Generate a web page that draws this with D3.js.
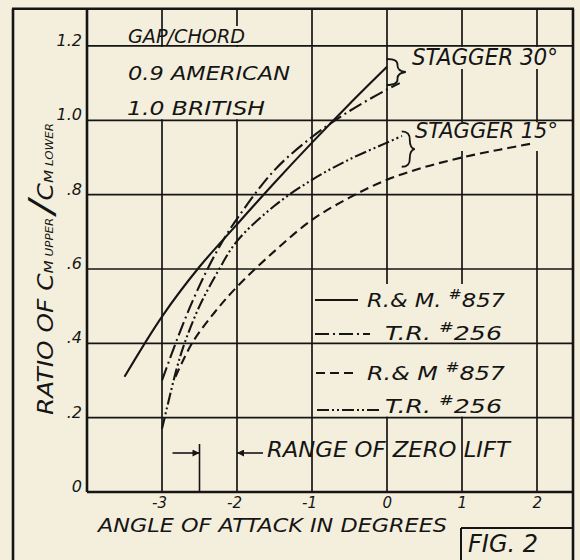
<!DOCTYPE html>
<html><head><meta charset="utf-8">
<script src="https://cdn.jsdelivr.net/npm/d3@7"></script>
<style>
html,body{margin:0;padding:0;background:#f4efdc;}
svg{display:block;}
text{font-family:"DejaVu Sans",sans-serif;font-style:oblique;fill:#151515;}
</style></head><body>
<svg id="chart" width="580" height="560"></svg>
<script>
// ---------- data ----------
const xTicks = [-3, -2, -1, 0, 1, 2];
const xTickLabels = ["-3", "-2", "-1", "0", "1", "2"];
const yTicks = [0, 0.2, 0.4, 0.6, 0.8, 1.0, 1.2];
const yTickLabels = ["0", ".2", ".4", ".6", ".8", "1.0", "1.2"];

// R. & M. #857, stagger 30° (solid)
const rm857S30 = [[-3.5,0.31],[-3.0,0.472],[-2.5,0.606],[-2.0,0.72],[-1.5,0.832],[-1.0,0.94],[-0.5,1.044],[0.0,1.144]];
// T.R. #256, stagger 30° (dash-dot)
const tr256S30 = [[-3.0,0.30],[-2.8,0.41],[-2.6,0.51],[-2.4,0.597],[-2.2,0.672],[-2.0,0.735],[-1.5,0.866],[-1.0,0.955],[-0.5,1.025],[0.0,1.083],[0.17,1.10]];
// R. & M. #857, stagger 15° (dashed)
const rm857S15 = [[-2.82,0.31],[-2.6,0.40],[-2.3,0.483],[-2.0,0.552],[-1.5,0.648],[-1.0,0.732],[-0.5,0.792],[0.0,0.84],[0.5,0.874],[1.0,0.90],[1.5,0.921],[1.97,0.939]];
// T.R. #256, stagger 15° (dash-dot-dot)
const tr256S15 = [[-3.0,0.17],[-2.9,0.255],[-2.8,0.335],[-2.7,0.40],[-2.5,0.50],[-2.25,0.595],[-2.0,0.675],[-1.5,0.77],[-1.0,0.84],[-0.5,0.895],[0.0,0.94],[0.2,0.958]];

const zeroLiftRange = [-2.5, -2.0];

const seriesNames = ["R.& M. #857", "T.R. #256", "R.& M #857", "T.R. #256"];
const seriesDash = [null, "14,4,2,4", "9,5", "12,3,2,3,2,3"];
const seriesData = [rm857S30, tr256S30, rm857S15, tr256S15];

// ---------- drawing ----------
const ink = "#151515";
const bg = "#f4efdc";
const svg = d3.select("#chart");
const x = d3.scaleLinear().domain([-4, 2.48]).range([87, 573]);
const y = d3.scaleLinear().domain([0, 1.3]).range([492, 8.8]);

const gV = svg.append("g");
const gMask = svg.append("g");
const gH = svg.append("g");
const gFrame = svg.append("g");
const gCurves = svg.append("g");
const gText = svg.append("g");

// vertical grid
gV.selectAll("line").data(xTicks).join("line")
  .attr("x1", d => x(d)).attr("x2", d => x(d))
  .attr("y1", y(1.3)).attr("y2", y(0))
  .attr("stroke", ink).attr("stroke-width", 1.7);

// horizontal grid
gH.selectAll("line").data(yTicks.filter(d => d > 0)).join("line")
  .attr("x1", x(-4)).attr("x2", x(2.48))
  .attr("y1", d => y(d)).attr("y2", d => y(d))
  .attr("stroke", ink).attr("stroke-width", 1.7);

// frame
const fw = 2.6;
gFrame.append("line").attr("x1", 13).attr("x2", 13).attr("y1", y(1.3)).attr("y2", 562).attr("stroke", ink).attr("stroke-width", fw);
gFrame.append("line").attr("x1", 12).attr("x2", 574).attr("y1", y(1.3)).attr("y2", y(1.3)).attr("stroke", ink).attr("stroke-width", fw);
gFrame.append("line").attr("x1", x(2.48)).attr("x2", x(2.48)).attr("y1", y(1.3)).attr("y2", 562).attr("stroke", ink).attr("stroke-width", fw);
gFrame.append("line").attr("x1", x(-4)).attr("x2", x(-4)).attr("y1", y(1.3)).attr("y2", y(0)).attr("stroke", ink).attr("stroke-width", fw);
gFrame.append("line").attr("x1", x(-4)).attr("x2", x(2.48)).attr("y1", y(0)).attr("y2", y(0)).attr("stroke", ink).attr("stroke-width", fw);
// FIG box
gFrame.append("line").attr("x1", 461).attr("x2", 574).attr("y1", 528).attr("y2", 528).attr("stroke", ink).attr("stroke-width", 2);
gFrame.append("line").attr("x1", 461).attr("x2", 461).attr("y1", 528).attr("y2", 562).attr("stroke", ink).attr("stroke-width", 2);

// curves
const line = d3.line().x(d => x(d[0])).y(d => y(d[1])).curve(d3.curveCatmullRom.alpha(0.5));
seriesData.forEach((s, i) => {
  gCurves.append("path").attr("d", line(s)).attr("fill", "none")
    .attr("stroke", ink).attr("stroke-width", 2.1)
    .attr("stroke-dasharray", seriesDash[i]);
});

// tick labels
gText.selectAll("text.yt").data(yTicks).join("text").attr("class", "yt")
  .attr("x", 82).attr("y", d => y(d)).attr("text-anchor", "end")
  .attr("font-size", 16).text((d, i) => yTickLabels[i]);
gText.selectAll("text.xt").data(xTicks).join("text").attr("class", "xt")
  .attr("x", d => x(d) + 5).attr("y", 508).attr("text-anchor", "end")
  .attr("font-size", 15).text((d, i) => xTickLabels[i]);

function label(txt, px, py, size, len) {
  const t = gText.append("text").attr("x", px).attr("y", py).attr("font-size", size).text(txt);
  if (len) t.attr("textLength", len).attr("lengthAdjust", "spacingAndGlyphs");
  return t;
}

// axis titles
label("ANGLE OF ATTACK  IN DEGREES", 98, 532, 19, 349);
const yl = gText.append("text").attr("transform", "translate(53,269) rotate(-90)")
  .attr("text-anchor", "middle").attr("textLength", 292).attr("lengthAdjust", "spacingAndGlyphs");
yl.append("tspan").attr("font-size", 21).text("RATIO OF C");
yl.append("tspan").attr("font-size", 13).text("M");
yl.append("tspan").attr("font-size", 10).text(" UPPER ");
yl.append("tspan").attr("font-size", 34).text("/");
yl.append("tspan").attr("font-size", 21).text("C");
yl.append("tspan").attr("font-size", 13).text("M");
yl.append("tspan").attr("font-size", 10).text(" LOWER");

// notes
label("GAP/CHORD", 128, 43, 20, 117);
const am = label("0.9 AMERICAN", 128, 80, 20, 162);
const br = label("1.0 BRITISH", 127, 115, 20, 138);
const s30 = label("STAGGER 30°", 412, 65, 23, 146);
const s15 = label("STAGGER 15°", 415, 138, 21, 143);
label("RANGE OF ZERO LIFT", 267, 457, 22, 243);
label("FIG. 2", 468, 552, 25, 70);

// braces
function brace(xp, y0, y1, w) {
  const m = (y0 + y1) / 2;
  return `M${xp - 4},${y0} Q${xp + w * 0.5},${y0} ${xp + w * 0.45},${y0 + (m - y0) * 0.5}` +
         ` Q${xp + w * 0.45},${m - 1} ${xp + w},${m}` +
         ` Q${xp + w * 0.45},${m + 1} ${xp + w * 0.45},${m + (y1 - m) * 0.5}` +
         ` Q${xp + w * 0.5},${y1} ${xp - 4},${y1}`;
}
gCurves.append("path").attr("d", brace(x(0.05), y(1.165), y(1.095), 15))
  .attr("fill", "none").attr("stroke", ink).attr("stroke-width", 1.8);
gCurves.append("path").attr("d", brace(x(0.25), y(0.97), y(0.875), 9))
  .attr("fill", "none").attr("stroke", ink).attr("stroke-width", 1.8);

// legend
const legY = [300, 334, 373, 410];
const legX1 = [315, 315, 316, 317];
const legX2 = [358, 370, 355, 380];
const legTX = [367, 385, 367, 385];
const legTY = [307, 340, 380, 413];
const legLen = [138, 117, 138, 117];
const gLeg = gText.append("g");
seriesNames.forEach((n, i) => {
  gLeg.append("line").attr("x1", legX1[i]).attr("x2", legX2[i]).attr("y1", legY[i]).attr("y2", legY[i])
    .attr("stroke", ink).attr("stroke-width", 2.1).attr("stroke-dasharray", seriesDash[i]);
  const parts = n.split("#");
  const t = gLeg.append("text").attr("x", legTX[i]).attr("y", legTY[i]).attr("font-size", 20)
    .attr("textLength", legLen[i]).attr("lengthAdjust", "spacingAndGlyphs");
  t.append("tspan").text(parts[0]);
  t.append("tspan").attr("font-size", 14).attr("dy", -8).text("#");
  t.append("tspan").attr("dy", 8).text(parts[1]);
});

// zero-lift range arrows
const ay = 453;
const defs = svg.append("defs");
defs.append("marker").attr("id", "ah").attr("viewBox", "0 0 10 10").attr("refX", 10).attr("refY", 5)
  .attr("markerWidth", 9).attr("markerHeight", 7).attr("markerUnits", "userSpaceOnUse").attr("orient", "auto")
  .append("path").attr("d", "M0,0 L10,5 L0,10 Z").attr("fill", ink);
gCurves.append("line").attr("x1", x(zeroLiftRange[0])).attr("x2", x(zeroLiftRange[0]))
  .attr("y1", 444).attr("y2", y(0)).attr("stroke", ink).attr("stroke-width", 1.6);
gCurves.append("line").attr("x1", x(zeroLiftRange[0]) - 27).attr("x2", x(zeroLiftRange[0]))
  .attr("y1", ay).attr("y2", ay).attr("stroke", ink).attr("stroke-width", 1.6).attr("marker-end", "url(#ah)");
gCurves.append("line").attr("x1", x(zeroLiftRange[1]) + 26).attr("x2", x(zeroLiftRange[1]))
  .attr("y1", ay).attr("y2", ay).attr("stroke", ink).attr("stroke-width", 1.6).attr("marker-end", "url(#ah)");

// masks hiding the vertical grid behind the lettering
{
  const a = am.node().getBBox(), b = br.node().getBBox();
  gMask.append("rect").attr("x", Math.min(a.x, b.x) - 3).attr("y", y(1.2) + 1)
    .attr("width", Math.max(a.x + a.width, b.x + b.width) - Math.min(a.x, b.x) + 6)
    .attr("height", y(1.0) - y(1.2) - 2).attr("fill", bg);
  gMask.append("rect").attr("x", x(-2) - 6).attr("y", 26).attr("width", 12).attr("height", y(1.2) - 27).attr("fill", bg);
  const c = s30.node().getBBox();
  gMask.append("rect").attr("x", c.x).attr("y", y(1.2) + 1).attr("width", c.width + 4).attr("height", c.y + c.height - y(1.2) - 2).attr("fill", bg);
  const d = s15.node().getBBox();
  gMask.append("rect").attr("x", d.x).attr("y", y(1.0) + 2).attr("width", d.width + 4).attr("height", d.y + d.height - y(1.0) + 6).attr("fill", bg);
  const l = gLeg.node().getBBox();
  gMask.append("rect").attr("x", l.x + 4).attr("y", l.y - 2).attr("width", l.width).attr("height", y(0.2) - l.y + 1).attr("fill", bg);
}
</script>
</body></html>
